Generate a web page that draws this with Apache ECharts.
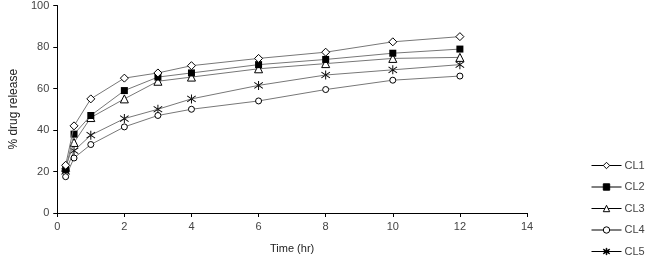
<!DOCTYPE html>
<html>
<head>
<meta charset="utf-8">
<script src="https://cdn.jsdelivr.net/npm/echarts@6/dist/echarts.min.js"></script>
<style>
  html, body { margin: 0; padding: 0; background: #fff; }
  #chart { width: 648px; height: 267px; }
</style>
</head>
<body>
<div id="chart"></div>
<script>
// time points (hr)
const times = [0.25, 0.5, 1, 2, 3, 4, 6, 8, 10, 12];
const seriesNames = ['CL1', 'CL2', 'CL3', 'CL4', 'CL5'];
const cl1 = [23, 42, 55, 65, 67.5, 71, 74.5, 77.5, 82.5, 85];
const cl2 = [21, 38, 47, 59, 65.5, 67.5, 71.5, 74, 77, 79];
const cl3 = [22, 34, 46, 55, 63.5, 65.5, 69.5, 72, 74.5, 75];
const cl4 = [17.5, 26.5, 33, 41.5, 47, 50, 54, 59.5, 64, 66];
const cl5 = [20, 30, 37.5, 45.5, 50, 55, 61.5, 66.5, 69, 71.5];
const xTicks = [0, 2, 4, 6, 8, 10, 12, 14];

// asterisk marker made of three thin bars
const asterisk = 'path://M9,0 L11,0 L11,20 L9,20 Z M0.7,4.3 L1.7,2.6 L19.3,15.7 L18.3,17.4 Z M0.7,15.7 L1.7,17.4 L19.3,4.3 L18.3,2.6 Z';

const looks = [
  { symbol: 'diamond', size: 8, fill: '#fff' },
  { symbol: 'rect', size: 7, fill: '#000' },
  { symbol: 'triangle', size: 8, fill: '#fff' },
  { symbol: 'circle', size: 6, fill: '#fff' },
  { symbol: asterisk, size: 9, fill: '#000' }
];
const allData = [cl1, cl2, cl3, cl4, cl5];

const chart = echarts.init(document.getElementById('chart'));
chart.setOption({
  animation: false,
  textStyle: { fontFamily: 'Liberation Sans, Arial, sans-serif' },
  grid: { left: 54, right: 121, top: 5, bottom: 54 },
  legend: {
    orient: 'vertical',
    left: 586,
    top: 155,
    itemGap: 10.5,
    itemWidth: 30,
    itemHeight: 8,
    data: seriesNames,
    lineStyle: { color: '#000', width: 1 },
    itemStyle: { borderWidth: 1 },
    textStyle: { fontSize: 11, color: '#444', padding: [0, 0, 0, -2] }
  },
  xAxis: {
    type: 'value',
    min: 0, max: 14, interval: 2,
    name: 'Time (hr)',
    nameLocation: 'middle',
    nameGap: 30,
    nameTextStyle: { fontSize: 11, color: '#222' },
    axisLine: { lineStyle: { color: '#000', width: 1 } },
    axisTick: { show: true, length: 4, lineStyle: { color: '#000' } },
    axisLabel: { fontSize: 11, color: '#444', margin: 8,
      formatter: v => xTicks.includes(v) ? String(v) : '' },
    splitLine: { show: false }
  },
  yAxis: {
    type: 'value',
    min: 0, max: 100, interval: 20,
    name: '% drug release',
    nameLocation: 'middle',
    nameGap: 36,
    nameTextStyle: { fontSize: 12, color: '#222' },
    axisLine: { show: true, lineStyle: { color: '#000', width: 1 } },
    axisTick: { show: true, length: 4, lineStyle: { color: '#000' } },
    axisLabel: { fontSize: 11, color: '#444', margin: 8 },
    splitLine: { show: false }
  },
  series: seriesNames.map((name, i) => ({
    name,
    type: 'line',
    data: times.map((t, j) => [t, allData[i][j]]),
    symbol: looks[i].symbol,
    symbolSize: looks[i].size,
    showAllSymbol: true,
    lineStyle: { color: '#777', width: 1 },
    itemStyle: { color: looks[i].fill, borderColor: '#000', borderWidth: looks[i].fill === '#fff' ? 1 : 0 },
    emphasis: { disabled: true },
    z: 5 - i
  }))
});
</script>
</body>
</html>
